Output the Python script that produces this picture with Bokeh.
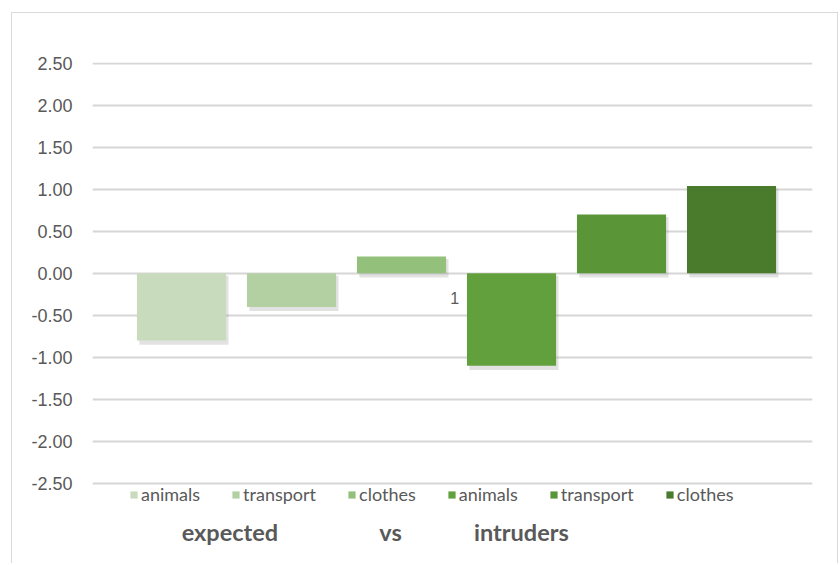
from bokeh.plotting import figure
from bokeh.models import (ColumnDataSource, Range1d, FixedTicker, PrintfTickFormatter,
                          LinearAxis, Legend, LegendItem)
from bokeh.core.properties import value
from bokeh.embed import file_html
from bokeh.resources import INLINE

# ---- data ----
series = ["animals", "transport", "clothes", "animals", "transport", "clothes"]
values = [-0.80, -0.40, 0.20, -1.10, 0.70, 1.04]
colors = ["#c8dbbd", "#b3d0a3", "#93c17c", "#62a03e", "#5a9637", "#4a7b2d"]
groups = ["expected", "vs", "intruders"]
group_pos = [0.44, 1.90, 3.09]
y_ticks = [-2.5, -2.0, -1.5, -1.0, -0.5, 0.0, 0.5, 1.0, 1.5, 2.0, 2.5]
point_label = ["1"]
point_label_bar = 3

xs = list(range(len(values)))
BW = 0.81
tops = [max(v, 0) for v in values]
bottoms = [min(v, 0) for v in values]

p = figure(width=827, height=551, output_backend="svg", toolbar_location=None,
           x_range=Range1d(-0.809, 5.736), y_range=Range1d(-2.80, 2.51),
           x_axis_location=None, y_axis_location=None,
           min_border_left=80, min_border_right=27, min_border_top=49, min_border_bottom=56)
p.margin = (12, 0, 0, 11)
p.outline_line_color = None
p.background_fill_color = "white"
p.border_fill_color = "white"
p.styles = {"border-top": "1px solid #d9d9d9", "border-left": "1px solid #d9d9d9",
            "border-right": "1px solid #d9d9d9"}

# y axis
yax = LinearAxis(ticker=FixedTicker(ticks=y_ticks), formatter=PrintfTickFormatter(format="%.2f"))
yax.axis_line_color = None
yax.major_tick_line_color = None
yax.minor_tick_line_color = None
yax.major_label_standoff = 14
yax.major_label_text_font = "Liberation Sans"
yax.major_label_text_font_size = "18px"
yax.major_label_text_color = "#595959"
p.add_layout(yax, "left")

# x axis with group labels
xax = LinearAxis(ticker=FixedTicker(ticks=group_pos),
                 major_label_overrides={pos: g for pos, g in zip(group_pos, groups)})
xax.axis_line_color = None
xax.major_tick_line_color = None
xax.minor_tick_line_color = None
xax.major_label_standoff = 3
xax.major_label_text_font = "Lato"
xax.major_label_text_font_style = "bold"
xax.major_label_text_font_size = "23.5px"
xax.major_label_text_color = "#595959"
p.add_layout(xax, "below")

p.xgrid.visible = False
p.ygrid.ticker = FixedTicker(ticks=y_ticks)
p.ygrid.grid_line_color = "#d6d6d6"
p.ygrid.grid_line_width = 1.8

# shadows
sh = ColumnDataSource(dict(x=[x + 0.022 for x in xs], top=[t - 0.03 for t in tops],
                           bottom=[b - 0.05 for b in bottoms]))
p.vbar(x="x", top="top", bottom="bottom", width=BW, source=sh,
       fill_color="#8c8c8c", fill_alpha=0.25, line_color=None)

items = []
for i, (x, t, b, c, s) in enumerate(zip(xs, tops, bottoms, colors, series)):
    r = p.vbar(x=[x], top=[t], bottom=[b], width=BW, fill_color=c, line_color=None)
    items.append(LegendItem(label=s, renderers=[r]))

# data label
p.text(x=[point_label_bar - BW / 2 - 0.07], y=[-0.29], text=point_label,
       text_font=value("Liberation Sans"), text_font_size="16px", text_color="#595959",
       text_align="right", text_baseline="middle")

leg = Legend(items=items, orientation="horizontal", location=(37, 3))
leg.padding = 0
leg.margin = 0
leg.spacing = 31
leg.glyph_width = 9
leg.glyph_height = 9
leg.label_standoff = 3
leg.label_height = 20
leg.label_text_font = "Lato"
leg.label_text_font_size = "18px"
leg.label_text_color = "#595959"
leg.border_line_color = None
leg.background_fill_alpha = 0
p.add_layout(leg, "center")

open("out.html", "w").write(file_html(p, INLINE))
